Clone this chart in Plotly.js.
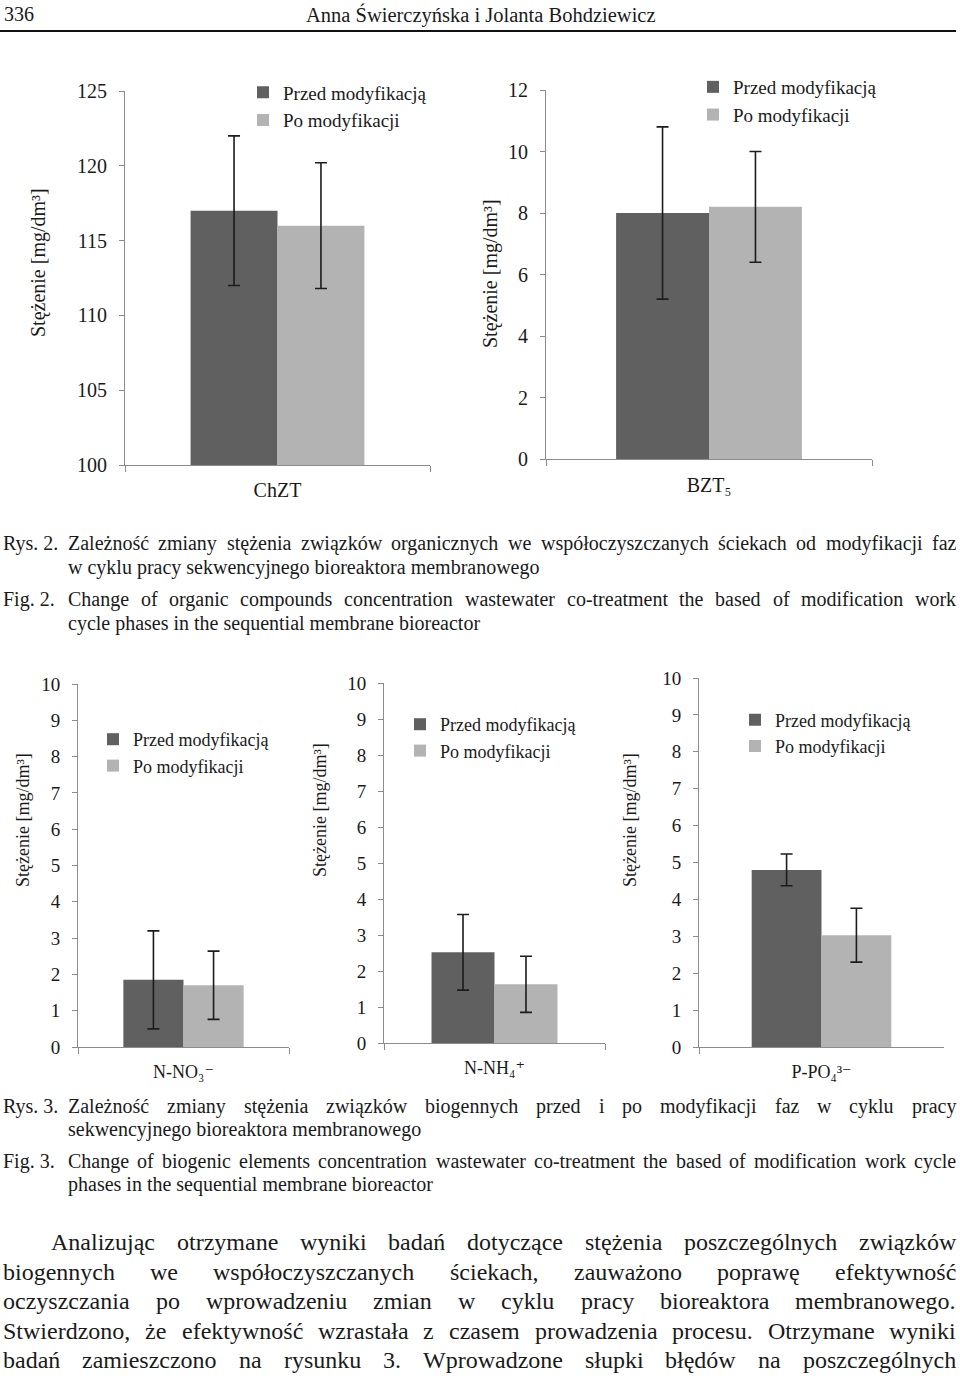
<!DOCTYPE html>
<html>
<head>
<meta charset="utf-8">
<script src="https://cdn.plot.ly/plotly-3.0.1.min.js"></script>
<style>
  html, body { margin:0; padding:0; background:#fff; }
  #plot { width:960px; height:1378px; }
</style>
</head>
<body>
<div id="plot"></div>
<script>
// ---------------- DATA ----------------
const seriesNames = ['Przed modyfikacją', 'Po modyfikacji'];

// Rys. 2 – organic compounds
const organicCategories = ['ChZT', 'BZT₅'];
const organicBefore     = [117.0, 8.0];
const organicBeforeErr  = [5.0, 2.8];
const organicAfter      = [116.0, 8.2];
const organicAfterErr   = [4.2, 1.8];

// Rys. 3 – biogenic compounds
const biogenicCategories = ['N-NO₃⁻', 'N-NH₄⁺', 'P-PO₄³⁻'];
const biogenicBefore     = [1.85, 2.52, 4.80];
const biogenicBeforeErr  = [1.35, 1.05, 0.43];
const biogenicAfter      = [1.70, 1.63, 3.03];
const biogenicAfterErr   = [0.94, 0.78, 0.73];

const yAxisTitle = 'Stężenie [mg/dm³]';

// ---------------- LAYOUT (pixel geometry) ----------------
const W = 960, H = 1378;
const px = x => x / W;
const py = y => 1 - y / H;
const FONT = '"Liberation Serif", "DejaVu Serif", "Times New Roman", serif';
const DARK = '#606060', LIGHT = '#b3b3b3', AXIS = '#8c8c8c', ERR = '#1c1c1c', TXT = '#1a1a1a';

const panels = [
  {cat: organicCategories[0], b: organicBefore[0], be: organicBeforeErr[0], a: organicAfter[0], ae: organicAfterErr[0],
   x0:125, x1:430, yb:465, yt:91, range:[100,125], dtick:5, tf:20, cf:20, xs:7,
   tx:38, ty:263, tsz:20, lx:243, ly:73.5, lsz:19},
  {cat: organicCategories[1], b: organicBefore[1], be: organicBeforeErr[1], a: organicAfter[1], ae: organicAfterErr[1],
   x0:546, x1:872, yb:459, yt:90, range:[0,12], dtick:2, tf:20, cf:20, xs:8,
   tx:490, ty:273, tsz:20, lx:693, ly:68, lsz:19},
  {cat: biogenicCategories[0], b: biogenicBefore[0], be: biogenicBeforeErr[0], a: biogenicAfter[0], ae: biogenicAfterErr[0],
   x0:78, x1:289, yb:1047, yt:684, range:[0,10], dtick:1, tf:19, cf:18, xs:8,
   tx:23, ty:820, tsz:18, lx:93, ly:721, lsz:18},
  {cat: biogenicCategories[1], b: biogenicBefore[1], be: biogenicBeforeErr[1], a: biogenicAfter[1], ae: biogenicAfterErr[1],
   x0:384, x1:605, yb:1043, yt:683, range:[0,10], dtick:1, tf:19, cf:18, xs:8,
   tx:320, ty:810, tsz:18, lx:400, ly:706, lsz:18},
  {cat: biogenicCategories[2], b: biogenicBefore[2], be: biogenicBeforeErr[2], a: biogenicAfter[2], ae: biogenicAfterErr[2],
   x0:699, x1:944, yb:1047, yt:678, range:[0,10], dtick:1, tf:19, cf:18, xs:8,
   tx:630, ty:820, tsz:18, lx:735, ly:701.5, lsz:18}
];

const traces = [];
const layout = {
  width: W, height: H,
  margin: {l:0, r:0, t:0, b:0},
  paper_bgcolor: '#ffffff', plot_bgcolor: 'rgba(0,0,0,0)',
  barmode: 'group', bargap: 0.43, bargroupgap: 0,
  font: {family: FONT, color: TXT, size: 18},
  showlegend: true,
  annotations: [],
  shapes: [{type:'line', xref:'paper', yref:'paper', x0:0, x1:px(956), y0:py(31), y1:py(31),
            line:{color:'#111', width:2}}]
};

panels.forEach((p, i) => {
  const n = i === 0 ? '' : String(i + 1);
  const xa = 'x' + n, ya = 'y' + n, lg = 'legend' + n;
  traces.push({
    type:'bar', x:[p.cat], y:[p.b], name:seriesNames[0], xaxis:xa, yaxis:ya, legend:lg,
    legendgroup:'g0_' + i,
    marker:{color:DARK, line:{width:0}},
    error_y:{type:'data', array:[p.be], visible:true, color:ERR, thickness:1.6, width:6},
    hoverinfo:'y'
  });
  traces.push({
    type:'bar', x:[p.cat], y:[p.a], name:seriesNames[1], xaxis:xa, yaxis:ya, legend:lg,
    legendgroup:'g1_' + i,
    marker:{color:LIGHT, line:{width:0}},
    error_y:{type:'data', array:[p.ae], visible:true, color:ERR, thickness:1.6, width:6},
    hoverinfo:'y'
  });
  layout['xaxis' + n] = {
    domain:[px(p.x0), px(p.x1)], anchor:ya, type:'category', range:[-0.5, 0.5],
    showline:true, linecolor:AXIS, linewidth:1, ticks:'outside', tickson:'boundaries',
    ticklen:6, tickcolor:AXIS, tickwidth:1, tickfont:{size:p.cf, family:FONT, color:TXT},
    showgrid:false, zeroline:false, fixedrange:true, ticklabelstandoff:p.xs
  };
  layout['yaxis' + n] = {
    domain:[py(p.yb), py(p.yt)], anchor:xa, range:p.range, tick0:p.range[0], dtick:p.dtick,
    showline:true, linecolor:AXIS, linewidth:1, ticks:'outside', ticklen:5,
    tickcolor:AXIS, tickwidth:1, tickfont:{size:p.tf, family:FONT, color:TXT},
    showgrid:false, zeroline:false, fixedrange:true, ticklabelstandoff:8
  };
  layout[lg] = {
    x:px(p.lx), y:py(p.ly), xanchor:'left', yanchor:'top',
    bgcolor:'rgba(0,0,0,0)', borderwidth:0, font:{size:p.lsz, family:FONT, color:TXT},
    tracegroupgap:0, itemclick:false, itemdoubleclick:false
  };
  layout.annotations.push({
    xref:'paper', yref:'paper', x:px(p.tx), y:py(p.ty), xanchor:'center', yanchor:'middle',
    text:yAxisTitle, textangle:-90, showarrow:false, font:{size:p.tsz, family:FONT, color:TXT}
  });
});

// ---------------- PAGE TEXT (as annotations) ----------------
const textLines = [
  {t:'336', x:3, y:14, s:20},
  {t:'Anna Świerczyńska i Jolanta Bohdziewicz', x:305, y:15, s:20.5},

  {t:'Rys. 2.', x:2, y:543, s:20},
  {t:'Zależność zmiany stężenia związków organicznych we współoczyszczanych ściekach od modyfikacji faz', x:67, y:543, s:20, w:888},
  {t:'w cyklu pracy sekwencyjnego bioreaktora membranowego', x:67, y:567, s:20},
  {t:'Fig. 2.', x:2, y:599, s:20},
  {t:'Change of organic compounds concentration wastewater co-treatment the based of modification work', x:67, y:599, s:20, w:888},
  {t:'cycle phases in the sequential membrane bioreactor', x:67, y:623, s:20},

  {t:'Rys. 3.', x:2, y:1106, s:20},
  {t:'Zależność zmiany stężenia związków biogennych przed i po modyfikacji faz w cyklu pracy', x:67, y:1106, s:20, w:888},
  {t:'sekwencyjnego bioreaktora membranowego', x:67, y:1129, s:20},
  {t:'Fig. 3.', x:2, y:1161, s:20},
  {t:'Change of biogenic elements concentration wastewater co-treatment the based of modification work cycle', x:67, y:1161, s:20, w:888},
  {t:'phases in the sequential membrane bioreactor', x:67, y:1184, s:20},

  {t:'Analizując otrzymane wyniki badań dotyczące stężenia poszczególnych związków', x:50, y:1242, s:24, w:905},
  {t:'biogennych we współoczyszczanych ściekach, zauważono poprawę efektywność', x:2, y:1272, s:24, w:953},
  {t:'oczyszczania po wprowadzeniu zmian w cyklu pracy bioreaktora membranowego.', x:2, y:1301, s:24, w:953},
  {t:'Stwierdzono, że efektywność wzrastała z czasem prowadzenia procesu. Otrzymane wyniki', x:2, y:1331, s:24, w:953},
  {t:'badań zamieszczono na rysunku 3. Wprowadzone słupki błędów na poszczególnych', x:2, y:1360, s:24, w:953}
];

const ctx = document.createElement('canvas').getContext('2d');
function addText(t, x, y, s) {
  layout.annotations.push({
    xref:'paper', yref:'paper', x:px(x), y:py(y), xanchor:'left', yanchor:'middle', align:'left',
    text:t, showarrow:false, borderpad:0, font:{size:s, family:FONT, color:TXT}
  });
}
textLines.forEach(l => {
  if (!l.w) { addText(l.t, l.x, l.y, l.s); return; }
  // justified line: place each word so the line fills width w
  ctx.font = l.s + 'px "Liberation Serif"';
  const words = l.t.split(' ');
  const widths = words.map(wd => ctx.measureText(wd).width);
  const total = widths.reduce((a, b) => a + b, 0);
  const gap = (l.w - total) / (words.length - 1);
  let cx = l.x;
  words.forEach((wd, k) => {
    addText(wd, cx, l.y, l.s);
    cx += widths[k] + gap;
  });
});

Plotly.newPlot('plot', traces, layout, {staticPlot:true, displayModeBar:false});
</script>
</body>
</html>
